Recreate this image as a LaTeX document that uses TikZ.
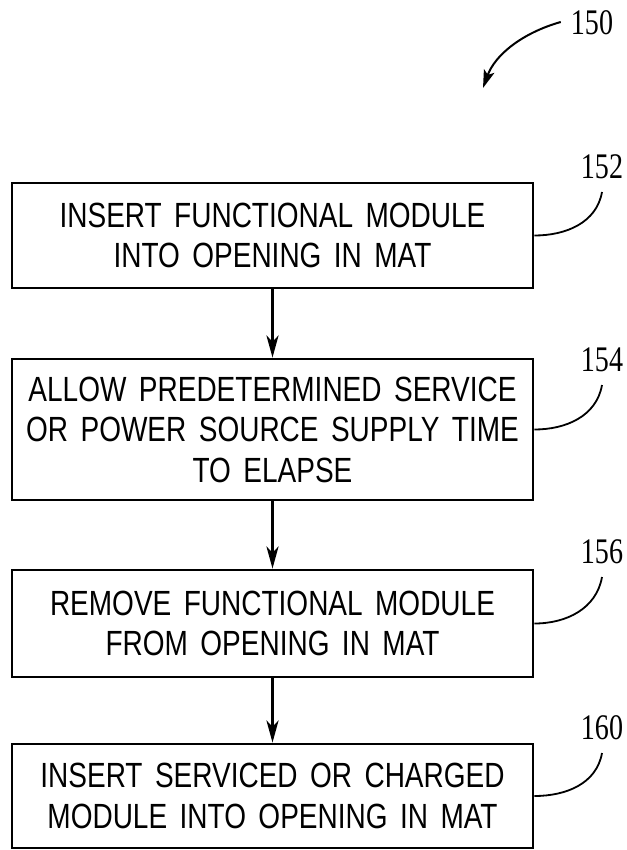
\documentclass[tikz,border=0pt]{standalone}
\usepackage{fontspec}
\usetikzlibrary{arrows.meta}
\newfontfamily\boxfont[FakeStretch=0.8,WordSpace=1.6]{Liberation Sans}
\newfontfamily\numfont[FakeStretch=0.78]{Liberation Serif}
\tikzset{
  stepbox/.style={draw, line width=2.8pt, minimum width=521pt, inner sep=0pt,
    align=center, font=\boxfont\fontsize{35pt}{40.5pt}\selectfont},
  flow/.style={line width=2.8pt, -{Stealth[length=22pt,width=12pt,inset=6pt]}},
  leader/.style={line width=1.8pt},
  reflabel/.style={inner sep=0pt, font=\numfont\fontsize{36pt}{36pt}\selectfont}
}
\begin{document}
\begin{tikzpicture}[x=1pt,y=-1pt]
\useasboundingbox (0,0) rectangle (626,850);
\node[stepbox, minimum height=105pt] (b1) at (272.5,235.5) {INSERT FUNCTIONAL MODULE\\INTO OPENING IN MAT};
\node[stepbox, minimum height=141pt] (b2) at (272.5,429.5) {ALLOW PREDETERMINED SERVICE\\OR POWER SOURCE SUPPLY TIME\\TO ELAPSE};
\node[stepbox, minimum height=107pt] (b3) at (272.5,623.5) {REMOVE FUNCTIONAL MODULE\\FROM OPENING IN MAT};
\node[stepbox, minimum height=104pt] (b4) at (272.5,796) {INSERT SERVICED OR CHARGED\\MODULE INTO OPENING IN MAT};
\draw[flow] (b1) -- (b2);
\draw[flow] (b2) -- (b3);
\draw[flow] (b3) -- (b4);
% labels
\node[reflabel] (l150) at (592,23) {150};
\node[reflabel] (l152) at (602,167) {152};
\node[reflabel] (l154) at (602,360) {154};
\node[reflabel] (l156) at (602,552) {156};
\node[reflabel] (l160) at (602,728) {160};
\coordinate (t150) at (483,88);
\coordinate (e152) at (602,192);
\coordinate (e154) at (602,385);
\coordinate (e156) at (602,577);
\coordinate (e160) at (602,753);
\draw[line width=2pt, -{Stealth[length=18pt,width=11pt,inset=4pt]}] ([xshift=-10pt,yshift=1pt]l150.west) .. controls (522,33) and (495,55) .. (t150);
\draw[leader] (b1.east) to[out=0,in=-100] (e152);
\draw[leader] (b2.east) to[out=0,in=-100] (e154);
\draw[leader] (b3.east) to[out=0,in=-100] (e156);
\draw[leader] (b4.east) to[out=0,in=-100] (e160);
\end{tikzpicture}
\end{document}
